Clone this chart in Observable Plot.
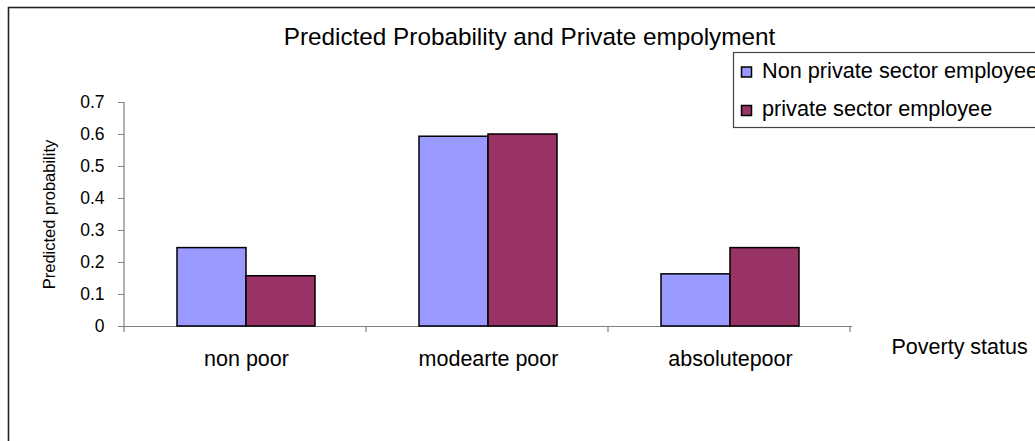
<!DOCTYPE html>
<html>
<head>
<meta charset="utf-8">
<script src="https://cdn.jsdelivr.net/npm/d3@7"></script>
<script src="https://cdn.jsdelivr.net/npm/@observablehq/plot@0.6"></script>
<style>
  html, body { margin: 0; padding: 0; background: #fff; }
</style>
</head>
<body>
<div id="chart"></div>
<script>
// Poverty status categories and predicted probabilities by employment sector
const categories = ["non poor", "modearte poor", "absolutepoor"];
const seriesNames = ["Non private sector employee", "private sector employee"];
const nonPrivate = [0.245, 0.593, 0.163];
const privateSector = [0.157, 0.600, 0.245];
const seriesColors = ["#9999FF", "#993366"];
const yTicks = [0, 0.1, 0.2, 0.3, 0.4, 0.5, 0.6, 0.7];

const titleText = "Predicted Probability and Private empolyment";
const yTitle = "Predicted probability";
const xTitle = "Poverty status";

const table = [];
categories.forEach((c, i) => {
  table.push({category: c, series: seriesNames[0], value: nonPrivate[i]});
  table.push({category: c, series: seriesNames[1], value: privateSector[i]});
});

const font = "'Liberation Sans', Arial, sans-serif";
const axisGray = "#808080";

const chart = Plot.plot({
  width: 1035,
  height: 441,
  marginLeft: 124,
  marginRight: 183,
  marginTop: 102,
  marginBottom: 115,
  style: {fontFamily: font, background: "#fff", color: "#000", overflow: "visible"},
  x: {domain: categories, padding: 0},
  y: {domain: [0, 0.7]},
  color: {domain: seriesNames, range: seriesColors},
  marks: [
    Plot.ruleY([0], {stroke: axisGray, strokeWidth: 1.2}),
    Plot.barY(table.filter(d => d.series === seriesNames[0]), {
      x: "category", y: "value", fill: "series",
      stroke: "#000", strokeWidth: 1.5, insetLeft: 52, insetRight: 121
    }),
    Plot.barY(table.filter(d => d.series === seriesNames[1]), {
      x: "category", y: "value", fill: "series",
      stroke: "#000", strokeWidth: 1.5, insetLeft: 121, insetRight: 52
    }),
    Plot.axisY({
      ticks: yTicks, tickSize: 6, tickPadding: 14, fontSize: 17.5,
      stroke: axisGray, label: null,
      tickFormat: d => d === 0 ? "0" : String(d)
    }),
    Plot.axisX({tickSize: 0, tickPadding: 24, fontSize: 21.5, label: null}),
    Plot.text([titleText], {
      frameAnchor: "top", dx: 41, dy: -65, fontSize: 24.3,
      textAnchor: "middle", lineAnchor: "middle"
    }),
    Plot.text([yTitle], {
      frameAnchor: "left", dx: -75, rotate: -90, fontSize: 16.5,
      textAnchor: "middle", lineAnchor: "middle"
    }),
    Plot.text([xTitle], {
      frameAnchor: "bottom-right", dx: 39, dy: 21, fontSize: 21.5,
      textAnchor: "start", lineAnchor: "middle"
    })
  ]
});

document.getElementById("chart").appendChild(chart);

const svg = d3.select(chart);
const sx = chart.scale("x");
const sy = chart.scale("y");
const x0 = sx.range[0];
const yBase = sy.apply(0);

// tick labels on the value axis
svg.selectAll('g[aria-label="y-axis tick label"]').attr("font-size", 17.5);
svg.selectAll('g[aria-label="y-axis tick label"] text').style("font-size", "17.5px");

// outer chart border
svg.insert("rect", ":first-child")
  .attr("x", 8.5).attr("y", 7.5)
  .attr("width", 1200).attr("height", 600)
  .attr("fill", "none").attr("stroke", "#222").attr("stroke-width", 1.6);

// vertical axis line (runs slightly below the baseline like a category tick)
svg.append("line")
  .attr("x1", x0).attr("x2", x0)
  .attr("y1", sy.apply(0.7)).attr("y2", yBase + 6)
  .attr("stroke", axisGray).attr("stroke-width", 1.2);

// category boundary ticks on the horizontal axis
for (let i = 1; i <= categories.length; i++) {
  const bx = x0 + i * sx.step;
  svg.append("line")
    .attr("x1", bx).attr("x2", bx)
    .attr("y1", yBase).attr("y2", yBase + 6)
    .attr("stroke", axisGray).attr("stroke-width", 1.2);
}

// legend box
const legend = svg.append("g")
  .attr("font-family", font).attr("font-size", 21.7).attr("text-anchor", "start");
legend.append("rect")
  .attr("x", 733.5).attr("y", 52.5)
  .attr("width", 400).attr("height", 75)
  .attr("fill", "#fff").attr("stroke", "#444").attr("stroke-width", 1.2);
const swatchY = [72, 110.5];
const textY = [77.5, 116];
seriesNames.forEach((name, i) => {
  legend.append("rect")
    .attr("x", 741.5).attr("y", swatchY[i] - 5)
    .attr("width", 10).attr("height", 10)
    .attr("fill", seriesColors[i]).attr("stroke", "#000").attr("stroke-width", 1.5);
  legend.append("text")
    .attr("x", 762).attr("y", textY[i])
    .attr("fill", "#000")
    .text(name);
});
</script>
</body>
</html>
